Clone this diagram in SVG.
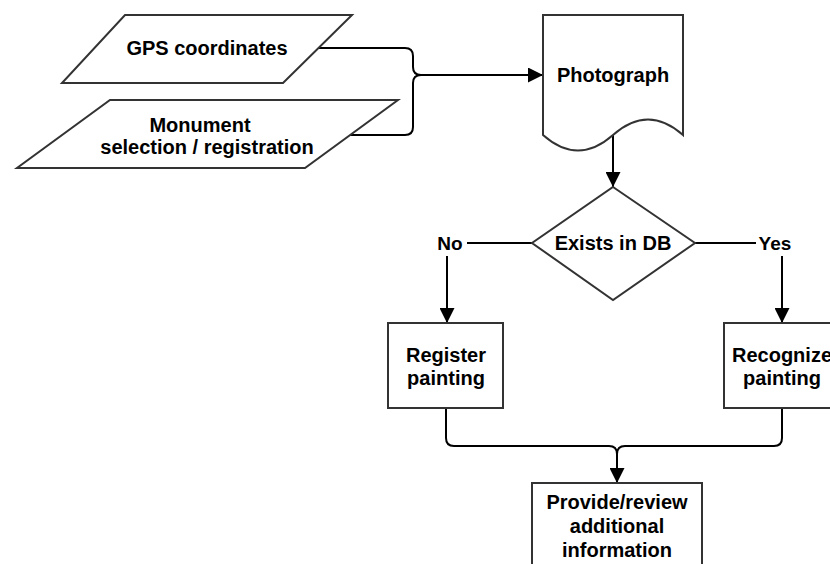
<svg xmlns="http://www.w3.org/2000/svg" width="830" height="564" viewBox="0 0 830 564">
<defs>
<marker id="arr" markerUnits="userSpaceOnUse" markerWidth="15" markerHeight="15" refX="15" refY="7.5" orient="auto">
<path d="M0,0 L15,7.5 L0,15 z" fill="#000"/>
</marker>
<style>
.shape{fill:#fff;stroke:#333;stroke-width:2}
.edge{fill:none;stroke:#000;stroke-width:2}
.t{font-family:"Liberation Sans",Arial,sans-serif;font-weight:bold;font-size:20px;fill:#000;text-anchor:middle}
.lbl{font-family:"Liberation Sans",Arial,sans-serif;font-weight:bold;font-size:19px;fill:#000;text-anchor:middle}
</style>
</defs>
<rect width="830" height="564" fill="#fff"/>
<g id="connectors">
<path class="edge" d="M318,48 H405 Q413,48 413,56 V67 Q413,75 421,75 H543" marker-end="url(#arr)"/>
<path class="edge" d="M350,135 H405 Q413,135 413,127 V83 Q413,75 421,75"/>
<path class="edge" d="M613,135 V187" marker-end="url(#arr)"/>
<path class="edge" d="M532,243 H467"/>
<path class="edge" d="M447,256 V323" marker-end="url(#arr)"/>
<path class="edge" d="M695,243 H756"/>
<path class="edge" d="M782,256 V323" marker-end="url(#arr)"/>
<path class="edge" d="M446,408 V438 Q446,446 454,446 H609 Q617,446 617,454 V483" marker-end="url(#arr)"/>
<path class="edge" d="M782,408 V438 Q782,446 774,446 H625 Q617,446 617,454"/>
<text class="lbl" x="450" y="250">No</text>
<text class="lbl" x="775" y="250">Yes</text>
</g>
<g id="gps">
<polygon class="shape" points="125,15 352,15 283,83 62,83"/>
<text class="t" x="207" y="55">GPS coordinates</text>
</g>
<g id="monument">
<polygon class="shape" points="110,100 398,100 305,168 17,168"/>
<text class="t" x="200" y="132">Monument</text>
<text class="t" x="207" y="154">selection / registration</text>
</g>
<g id="photograph">
<path class="shape" d="M543,15 H683 V135 Q648,104 613,135 Q578,166 543,135 Z"/>
<text class="t" x="613" y="82">Photograph</text>
</g>
<g id="decision">
<polygon class="shape" points="613,187 695,243 613,300 532,243"/>
<text class="t" x="613" y="250">Exists in DB</text>
</g>
<g id="register">
<rect class="shape" x="388" y="323" width="115" height="85"/>
<text class="t" x="446" y="362">Register</text>
<text class="t" x="446" y="385">painting</text>
</g>
<g id="recognize">
<rect class="shape" x="724" y="323" width="115" height="85"/>
<text class="t" x="782" y="362">Recognize</text>
<text class="t" x="782" y="385">painting</text>
</g>
<g id="provide">
<rect class="shape" x="532" y="483" width="170" height="100"/>
<text class="t" x="617" y="509">Provide/review</text>
<text class="t" x="617" y="533">additional</text>
<text class="t" x="617" y="557">information</text>
</g>
</svg>
